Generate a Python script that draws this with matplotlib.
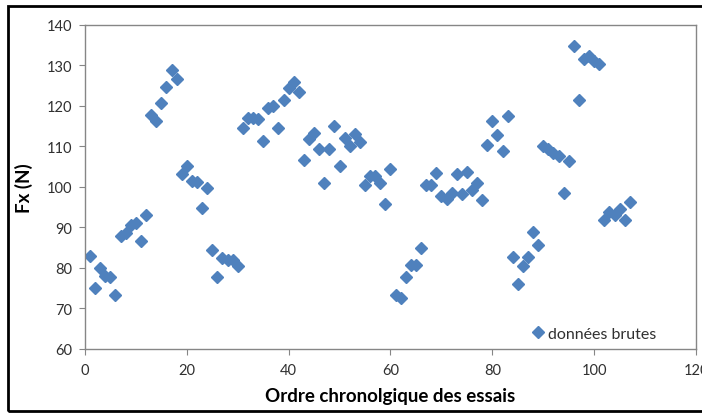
import matplotlib
matplotlib.use("Agg")
import matplotlib.pyplot as plt
from matplotlib.patches import Rectangle

plt.rcParams['font.family'] = ['Lato', 'DejaVu Sans']

essais = list(range(1, 108))
fx = [83.0, 75.0, 80.1, 78.1, 77.9, 73.3, 87.8, 88.6, 90.5, 91.0,
      86.7, 93.1, 117.7, 116.4, 120.7, 124.8, 128.9, 126.7, 103.1, 105.3,
      101.4, 101.2, 94.8, 99.7, 84.4, 77.7, 82.5, 81.9, 81.9, 80.6,
      114.6, 117.1, 117.1, 116.7, 111.3, 119.6, 120.0, 114.6, 121.6, 124.4,
      126.0, 123.4, 106.7, 111.8, 113.4, 109.5, 101.0, 109.5, 115.0, 105.2,
      112.2, 110.1, 113.0, 111.0, 100.6, 102.7, 102.7, 101.0, 95.9, 104.5,
      73.3, 72.6, 77.9, 80.8, 80.8, 84.9, 100.6, 100.6, 103.4, 97.9,
      97.1, 98.6, 103.1, 98.2, 103.7, 99.3, 101.0, 96.7, 110.3, 116.4,
      112.8, 108.8, 117.6, 82.8, 76.0, 80.6, 82.8, 88.8, 85.7, 110.1,
      109.3, 108.3, 107.6, 98.5, 106.4, 134.9, 121.6, 131.6, 132.4, 131.2,
      130.3, 91.9, 93.8, 93.0, 94.6, 91.9, 96.4]

x_ticks = [0, 20, 40, 60, 80, 100, 120]
y_ticks = [60, 70, 80, 90, 100, 110, 120, 130, 140]
series_label = "données brutes"
x_label = "Ordre chronolgique des essais"
y_label = "Fx (N)"

fig = plt.figure(figsize=(7.02, 4.14), dpi=100)
ax = fig.add_axes([0.121, 0.1546, 0.8705, 0.7826])

ax.plot(essais, fx, linestyle='none', marker='D', markersize=6.0,
        color='#4F81BD', markeredgecolor='#4F81BD', label=series_label)

ax.set_xlim(0, 120)
ax.set_ylim(60, 140)
ax.set_xticks(x_ticks)
ax.set_yticks(y_ticks)
ax.tick_params(axis='both', labelsize=10.5, colors='#303030', length=4,
               direction='out', color='#868686')
ax.tick_params(axis='y', pad=5)
ax.tick_params(axis='x', pad=6)
for s in ax.spines.values():
    s.set_color('#868686')
    s.set_linewidth(1.0)

ax.set_xlabel(x_label, fontsize=13.5, fontweight='bold', color='black', labelpad=7)
ax.set_ylabel(y_label, fontsize=13.5, fontweight='bold', color='black', labelpad=10)

leg = ax.legend(loc='lower right', frameon=False, fontsize=11.5,
                handletextpad=0.1, handlelength=1.0, borderaxespad=0.0,
                bbox_to_anchor=(0.945, 0.005))
for t in leg.get_texts():
    t.set_color('#303030')

# outer chart frame (left, top, bottom edges visible)
fig.add_artist(Rectangle((8 / 702, 2 / 414), 1.2, 1 - 9 / 414,
                         transform=fig.transFigure, fill=False,
                         edgecolor='black', linewidth=2.0, clip_on=False))

fig.savefig("out.png", dpi=100)
